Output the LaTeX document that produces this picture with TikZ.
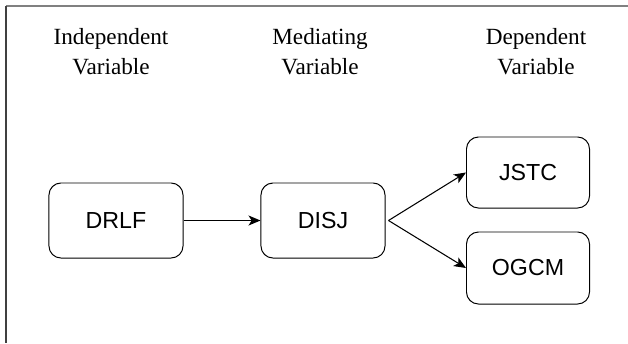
\documentclass[tikz,border=0pt]{standalone}
\usepackage{fontspec}
\setmainfont{Liberation Serif}
\setsansfont{Liberation Sans}
\usetikzlibrary{arrows.meta}

\tikzset{
  heading/.style={align=center, inner sep=0pt, font=\fontsize{16.5}{21.3}\selectfont},
  varbox/.style={draw, line width=0.7pt, rounded corners=0.3cm, inner sep=0pt,
    minimum height=1.875cm, font=\sffamily\fontsize{16.5}{19}\selectfont},
  link/.style={-{Stealth[length=0.3cm, width=0.25cm, inset=0.08cm]}, line width=0.75pt}
}

\begin{document}
\begin{tikzpicture}[x=0.025cm, y=-0.025cm]

  \useasboundingbox (0,0) rectangle (628,343);

  % frame
  \draw[gray, line width=1.5pt] (6,6) -- (628,6);
  \draw[black!75, line width=1.1pt] (6,6) -- (6,343);

  % headings
  \node[heading] (hind) at (111,52) {Independent\\Variable};
  \node[heading] (hmed) at (320,52) {Mediating\\Variable};
  \node[heading] (hdep) at (536,52) {Dependent\\Variable};

  % variables
  \node[varbox, minimum width=3.35cm] (drlf) at (116,220.5) {DRLF};
  \node[varbox, minimum width=3.1cm] (disj) at (323,220.5) {DISJ};
  \node[varbox, minimum width=3.075cm, minimum height=1.775cm] (jstc) at (528,172.5) {JSTC};
  \node[varbox, minimum width=3.075cm, minimum height=1.8cm] (ogcm) at (528,268) {OGCM};

  % links
  \coordinate (fork) at ([xshift=0.075cm]disj.east);
  \draw[link] (drlf) -- (disj);
  \draw[link] (fork) -- (jstc.west);
  \draw[link] (fork) -- (ogcm.west);

\end{tikzpicture}
\end{document}
